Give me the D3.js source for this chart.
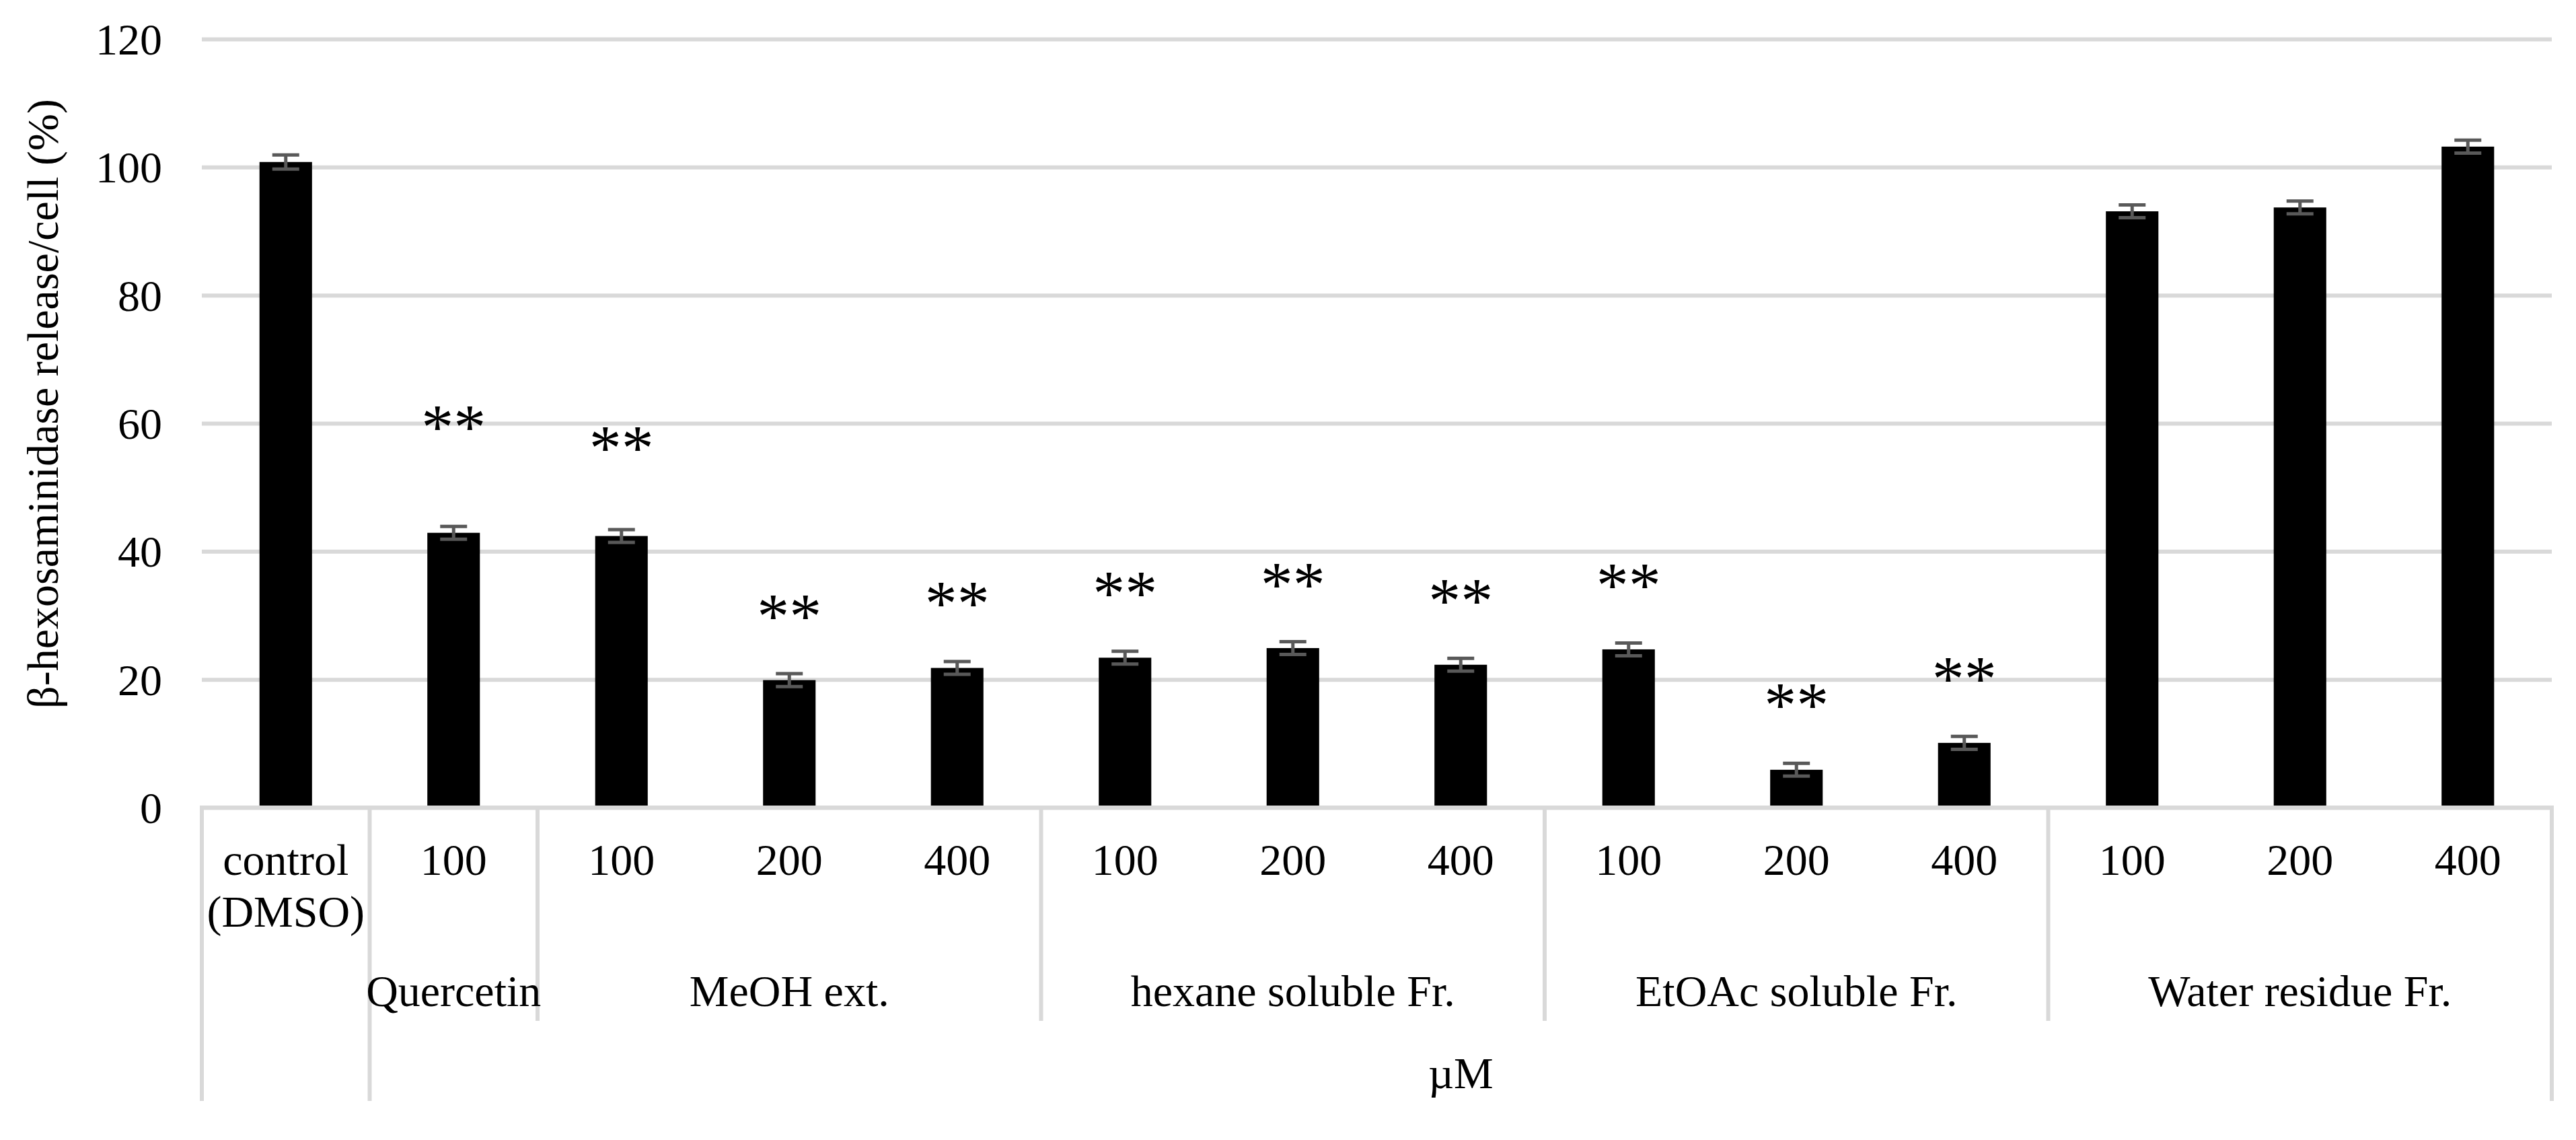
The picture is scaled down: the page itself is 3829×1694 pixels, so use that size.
<!DOCTYPE html>
<html>
<head>
<meta charset="utf-8">
<script src="https://cdn.jsdelivr.net/npm/d3@7"></script>
<style>
  body { margin: 0; background: #fff; }
  text { font-family: "Liberation Serif", "Times New Roman", serif; fill: #000; }
</style>
</head>
<body>
<div id="container"></div>
<script>
// categories (level 1 = dose, level 2 = sample, level 3 = unit)
const doseLabels = ["control|(DMSO)", "100", "100", "200", "400", "100", "200", "400", "100", "200", "400", "100", "200", "400"];
const groupNames = ["", "Quercetin", "MeOH ext.", "hexane soluble Fr.", "EtOAc soluble Fr.", "Water residue Fr."];
const groupIndex = [0, 1, 2, 2, 2, 3, 3, 3, 4, 4, 4, 5, 5, 5];
const unitNames = ["", "\u00b5M"];
const unitIndex = [0, 1, 1, 1, 1, 1, 1, 1, 1, 1, 1, 1, 1, 1];

// series values
const releaseValues = [100.8, 42.9, 42.4, 19.9, 21.8, 23.4, 24.9, 22.3, 24.7, 5.9, 10.1, 93.1, 93.7, 103.2];
const errorValues = [1.1, 1.0, 1.0, 1.0, 1.0, 1.0, 1.0, 1.0, 1.0, 1.0, 1.0, 1.0, 1.0, 1.0];
// significance marks and the height (in %) where each one sits
const starLabels = ["", "**", "**", "**", "**", "**", "**", "**", "**", "**", "**", "", "", ""];
const starLevels = [0, 60.7, 57.5, 31.2, 33.2, 34.8, 36.2, 33.6, 36.1, 17.3, 21.4, 0, 0, 0];

const yTicks = [0, 20, 40, 60, 80, 100, 120];
const yLabel = "\u03b2-hexosaminidase release/cell (%)";

const width = 3829;
const height = 1694;
const margin = {top: 58, left: 300, right: 36, bottom: 494};
const plotW = width - margin.left - margin.right;
const plotH = height - margin.top - margin.bottom;
const gridColor = "#d9d9d9";
const fontSize = 66;

const ids = doseLabels.map((d, i) => "c" + i);

const svg = d3.select("#container")
              .append("svg")
              .attr("width", width)
              .attr("height", height)
              .style("background", "#fff");

const x = d3.scaleBand()
            .domain(ids)
            .range([margin.left, margin.left + plotW])
            .paddingInner(0.687)
            .paddingOuter(0.3435);
const cell = d3.scaleBand()
               .domain(ids)
               .range([margin.left, margin.left + plotW]);
const y = d3.scaleLinear()
            .domain([0, 120])
            .range([margin.top + plotH, margin.top]);

// gridlines + tick labels
const yAxis = d3.axisLeft(y)
                .tickValues(yTicks)
                .tickSize(-plotW)
                .tickPadding(59);
const gy = svg.append("g")
              .attr("transform", "translate(" + margin.left + ",0)")
              .call(yAxis);
gy.select(".domain").remove();
gy.selectAll(".tick line")
  .attr("stroke", gridColor)
  .attr("stroke-width", 6);
gy.selectAll(".tick text")
  .attr("font-size", fontSize)
  .attr("font-family", "Liberation Serif")
  .attr("fill", "#000")
  .attr("dy", "0.34em");

// bars
svg.append("g")
   .selectAll("rect")
   .data(releaseValues)
   .enter()
   .append("rect")
   .attr("x", (d, i) => x(ids[i]))
   .attr("width", x.bandwidth())
   .attr("y", d => y(d))
   .attr("height", d => y(0) - y(d))
   .attr("fill", "#000");

// error bars
const eb = svg.append("g")
              .attr("stroke", "#595959")
              .attr("stroke-width", 5);
releaseValues.forEach((v, i) => {
  const cx = x(ids[i]) + x.bandwidth() / 2;
  const e = errorValues[i];
  eb.append("line").attr("x1", cx).attr("x2", cx).attr("y1", y(v + e)).attr("y2", y(v - e));
  eb.append("line").attr("x1", cx - 20).attr("x2", cx + 20).attr("y1", y(v + e)).attr("y2", y(v + e));
  eb.append("line").attr("x1", cx - 20).attr("x2", cx + 20).attr("y1", y(v - e)).attr("y2", y(v - e));
});

// significance stars
svg.append("g")
   .selectAll("text")
   .data(starLabels)
   .enter()
   .append("text")
   .attr("x", (d, i) => x(ids[i]) + x.bandwidth() / 2)
   .attr("y", (d, i) => y(starLevels[i]))
   .attr("dy", "0.47em")
   .attr("text-anchor", "middle")
   .attr("font-size", 96)
   .text(d => d);

// category axis line
const axisY = y(0);
svg.append("line")
   .attr("x1", margin.left - 3)
   .attr("x2", margin.left + plotW + 3)
   .attr("y1", axisY)
   .attr("y2", axisY)
   .attr("stroke", gridColor)
   .attr("stroke-width", 6);

// separators of the multi-level category axis
const sepG = svg.append("g")
                .attr("stroke", gridColor)
                .attr("stroke-width", 6);
const level2Bottom = 1517;
const level3Bottom = 1636;
ids.forEach((id, i) => {
  const xb = cell(id);
  let bottom = null;
  if (i === 0 || unitIndex[i] !== unitIndex[i - 1]) bottom = level3Bottom;
  else if (groupIndex[i] !== groupIndex[i - 1]) bottom = level2Bottom;
  if (bottom) sepG.append("line").attr("x1", xb).attr("x2", xb).attr("y1", axisY).attr("y2", bottom);
});
sepG.append("line")
    .attr("x1", margin.left + plotW).attr("x2", margin.left + plotW)
    .attr("y1", axisY).attr("y2", level3Bottom);

// level 1 labels
const lab1 = svg.append("g")
                .attr("font-size", fontSize)
                .attr("text-anchor", "middle");
doseLabels.forEach((d, i) => {
  const t = lab1.append("text")
                .attr("x", cell(ids[i]) + cell.bandwidth() / 2)
                .attr("y", 1300);
  d.split("|").forEach((line, j) => {
    t.append("tspan")
     .attr("x", cell(ids[i]) + cell.bandwidth() / 2)
     .attr("dy", j === 0 ? 0 : 77)
     .text(line);
  });
});

// level 2 labels (sample groups)
const lab2 = svg.append("g")
                .attr("font-size", fontSize)
                .attr("text-anchor", "middle");
groupNames.forEach((g, k) => {
  const members = ids.filter((id, i) => groupIndex[i] === k);
  if (!g || !members.length) return;
  const x0 = cell(members[0]);
  const x1 = cell(members[members.length - 1]) + cell.bandwidth();
  lab2.append("text")
      .attr("x", (x0 + x1) / 2)
      .attr("y", 1495)
      .text(g);
});

// level 3 label (unit)
unitNames.forEach((u, k) => {
  const members = ids.filter((id, i) => unitIndex[i] === k);
  if (!u || !members.length) return;
  const x0 = cell(members[0]);
  const x1 = cell(members[members.length - 1]) + cell.bandwidth();
  svg.append("text")
     .attr("x", (x0 + x1) / 2)
     .attr("y", 1617)
     .attr("font-size", fontSize)
     .attr("text-anchor", "middle")
     .text(u);
});

// y axis title
svg.append("text")
   .attr("transform", "translate(86,600) rotate(-90)")
   .attr("text-anchor", "middle")
   .attr("font-size", fontSize)
   .text(yLabel);
</script>
</body>
</html>
